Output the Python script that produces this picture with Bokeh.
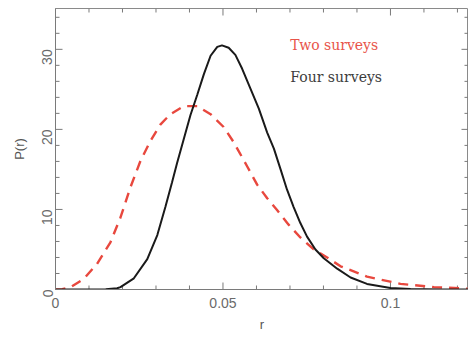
import math
from bokeh.plotting import figure
from bokeh.models import Label, Range1d, FixedTicker
from bokeh.embed import file_html
from bokeh.resources import INLINE

# Four surveys (black solid)
r_four = [0.0, 0.010, 0.015, 0.0184, 0.0194, 0.0234, 0.0274, 0.0304, 0.0328, 0.0348, 0.0363,
          0.0383, 0.0403, 0.0423, 0.0443, 0.0463, 0.0483, 0.0497, 0.0517, 0.0537, 0.0557,
          0.0582, 0.0607, 0.0632, 0.0652, 0.0672, 0.0691, 0.0711, 0.0731, 0.0751, 0.0776,
          0.0801, 0.0841, 0.0881, 0.093, 0.100, 0.106, 0.115, 0.125]
p_four = [0.0, 0.0, 0.02, 0.15, 0.3, 1.4, 3.8, 6.8, 10.3, 13.4, 15.8,
          18.8, 21.8, 24.3, 26.9, 29.2, 30.3, 30.5, 30.2, 29.3, 27.6,
          25.1, 22.6, 19.6, 17.6, 15.0, 12.5, 10.3, 8.3, 6.6, 5.0,
          3.9, 2.6, 1.5, 0.7, 0.2, 0.05, 0.0, 0.0]

# Two surveys (red dashed)
r_two = [0.0, 0.002, 0.0045, 0.0084, 0.0124, 0.0164, 0.0194, 0.0224, 0.0254, 0.0284, 0.0313,
         0.0343, 0.0383, 0.0423, 0.0463, 0.0502, 0.0532, 0.0572, 0.0602, 0.0632, 0.0662,
         0.0696, 0.0731, 0.0771, 0.0811, 0.0851, 0.093, 0.103, 0.113, 0.123]
p_two = [0.0, 0.05, 0.3, 1.3, 3.2, 5.9, 9.0, 12.8, 16.1, 18.6, 20.6,
         21.9, 22.9, 22.9, 21.9, 20.3, 18.4, 15.4, 13.1, 11.4, 9.9,
         8.1, 6.5, 5.0, 4.0, 2.9, 1.6, 0.7, 0.3, 0.1]

x_ticks = [0, 0.05, 0.1]
x_minor = [0.01, 0.02, 0.03, 0.04, 0.06, 0.07, 0.08, 0.09, 0.11, 0.12]
y_ticks = [0, 10, 20, 30]
y_minor = [2, 4, 6, 8, 12, 14, 16, 18, 22, 24, 26, 28, 32, 34]
x_labels = {0: "0", 0.05: "0.05", 0.1: "0.1"}

W, H = 468, 337
BL, BR, BT, BB = 55, 0, 8, 48
X_END, Y_END = 0.1233, 35.1

p = figure(width=W, height=H, output_backend="svg", toolbar_location=None,
           x_range=Range1d(0, X_END), y_range=Range1d(0, Y_END),
           min_border_left=BL, min_border_right=BR, min_border_top=BT, min_border_bottom=BB)
p.background_fill_color = "white"
p.border_fill_color = "white"
p.outline_line_color = "#8a8a8a"
p.xgrid.visible = False
p.ygrid.visible = False

axcol = "#7a7a7a"

# inward tick marks on all four sides (lengths converted from pixels to data units)
dx = X_END / (W - BL - BR)
dy = Y_END / (H - BT - BB)
MAJ, MIN = 7, 4
for xs, ln in ((x_ticks, MAJ), (x_minor, MIN)):
    p.segment(x0=xs, y0=[0] * len(xs), x1=xs, y1=[ln * dy] * len(xs),
              line_color=axcol, line_width=1)
    p.segment(x0=xs, y0=[Y_END] * len(xs), x1=xs, y1=[Y_END - ln * dy] * len(xs),
              line_color=axcol, line_width=1)
for ys, ln in ((y_ticks, MAJ), (y_minor, MIN)):
    p.segment(x0=[0] * len(ys), y0=ys, x1=[ln * dx] * len(ys), y1=ys,
              line_color=axcol, line_width=1)
    p.segment(x0=[X_END] * len(ys), y0=ys, x1=[X_END - ln * dx] * len(ys), y1=ys,
              line_color=axcol, line_width=1)

p.line(r_two, p_two, line_color="#e8483e", line_width=2.4, line_dash="10 7")
p.line(r_four, p_four, line_color="#1a1a1a", line_width=2)


def style(ax):
    ax.axis_line_color = axcol
    ax.major_tick_line_color = None
    ax.minor_tick_line_color = None
    ax.major_tick_in = 0
    ax.major_tick_out = 0
    ax.minor_tick_in = 0
    ax.minor_tick_out = 0
    ax.major_label_text_font = "Liberation Sans"
    ax.major_label_text_font_size = "14px"
    ax.major_label_text_color = "#6a6a6a"
    ax.axis_label_text_font = "Liberation Sans"
    ax.axis_label_text_font_style = "normal"
    ax.axis_label_text_font_size = "13px"
    ax.axis_label_text_color = "#555555"


style(p.xaxis[0])
style(p.yaxis[0])

p.xaxis[0].ticker = FixedTicker(ticks=x_ticks, minor_ticks=x_minor)
p.xaxis[0].major_label_overrides = x_labels
p.xaxis[0].major_label_standoff = 8
p.xaxis[0].axis_label = "r"
p.xaxis[0].axis_label_standoff = 6

p.yaxis[0].ticker = FixedTicker(ticks=y_ticks, minor_ticks=y_minor)
p.yaxis[0].major_label_orientation = math.pi / 2
p.yaxis[0].major_label_standoff = 8
p.yaxis[0].axis_label = "P(r)"
p.yaxis[0].axis_label_standoff = 8

p.add_layout(Label(x=0.0701, y=30.6, text="Two surveys", text_font="DejaVu Serif",
                   text_font_size="14px", text_color="#e8544a", text_baseline="middle"))
p.add_layout(Label(x=0.0701, y=26.5, text="Four surveys", text_font="DejaVu Serif",
                   text_font_size="14px", text_color="#3c3c3c", text_baseline="middle"))

open("out.html", "w").write(file_html(p, INLINE))
